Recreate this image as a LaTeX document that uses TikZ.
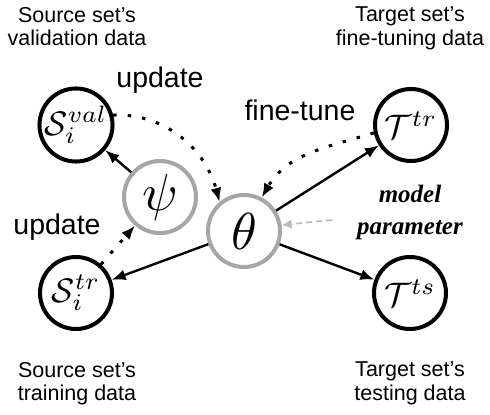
\documentclass[tikz,border=0pt]{standalone}
\usepackage{graphicx}
\usepackage{fontspec}
\setmainfont{Liberation Sans}
\newfontfamily\serifbi{Liberation Serif}
\usetikzlibrary{arrows.meta}
\definecolor{ringgray}{RGB}{166,166,166}
\definecolor{lightarr}{RGB}{185,185,185}
\tikzset{
  blackring/.style={circle,draw=black,line width=4pt,minimum size=72pt,inner sep=0pt},
  grayring/.style={circle,draw=ringgray,line width=4pt,minimum size=72pt,inner sep=0pt},
  solidarr/.style={line width=2.4pt,-{Latex[length=14pt,width=11pt]}},
  dotarr/.style={line width=3pt,dash pattern=on 3.5pt off 11pt,-{Latex[length=14pt,width=11pt]}},
  grayarr/.style={draw=lightarr,line width=1.6pt,dash pattern=on 6pt off 4pt,-{Latex[length=10pt,width=9pt]}},
  caption/.style={align=center,inner sep=0pt,anchor=north,font=\fontsize{21.5}{23.5}\selectfont},
  edgelabel/.style={inner sep=0pt,anchor=base,font=\fontsize{28.5}{30}\selectfont}
}
\begin{document}
\begin{tikzpicture}[x=1pt,y=-1pt]
\useasboundingbox (0,0) rectangle (490,415);
% nodes
\node[blackring] (sval) at (76,125) {\scalebox{3.4}{$\mathcal{S}_i^{val}$}};
\node[blackring] (str) at (76,293) {\scalebox{3.4}{$\mathcal{S}_i^{tr}$}};
\node[blackring] (ttr) at (411,125) {\scalebox{3.4}{$\mathcal{T}^{tr}$}};
\node[blackring] (tts) at (410,293) {\scalebox{3.4}{$\mathcal{T}^{ts}$}};
\node[grayring] (psi) at (160,197) {\scalebox{5.2}{$\psi$}};
\node[grayring] (theta) at (244,231) {\scalebox{5.2}{$\theta$}};
% captions
\node[caption] (c1) at (77,7) {Source set’s\\validation data};
\node[caption] (c2) at (410,7) {Target set’s\\fine-tuning data};
\node[caption] (c3) at (77,362) {Source set’s\\training data};
\node[caption] (c4) at (410,362) {Target set’s\\testing data};
% edge labels
\node[edgelabel] (u1) at (160,87) {update};
\node[edgelabel] (u2) at (57,234) {update};
\node[edgelabel] (ft) at (300,120) {fine-tune};
\node[align=center,inner sep=0pt,anchor=north,font=\serifbi\bfseries\itshape\fontsize{25}{32}\selectfont] (mp) at (410,185) {model\\parameter};
\coordinate (mpstart) at (332,220);
% connectors
\draw[solidarr] (psi) -- (sval);
\draw[dotarr] (str) -- (psi);
\draw[dotarr] (sval.15) to[out=2,in=105] (theta.130);
\draw[dotarr] (ttr.192) to[out=197,in=60] (theta.62);
\draw[solidarr] (theta) -- (ttr);
\draw[solidarr] (theta) -- (str);
\draw[solidarr] (theta) -- (tts);
\draw[grayarr] (mpstart) -- (theta.9);
\end{tikzpicture}
\end{document}
